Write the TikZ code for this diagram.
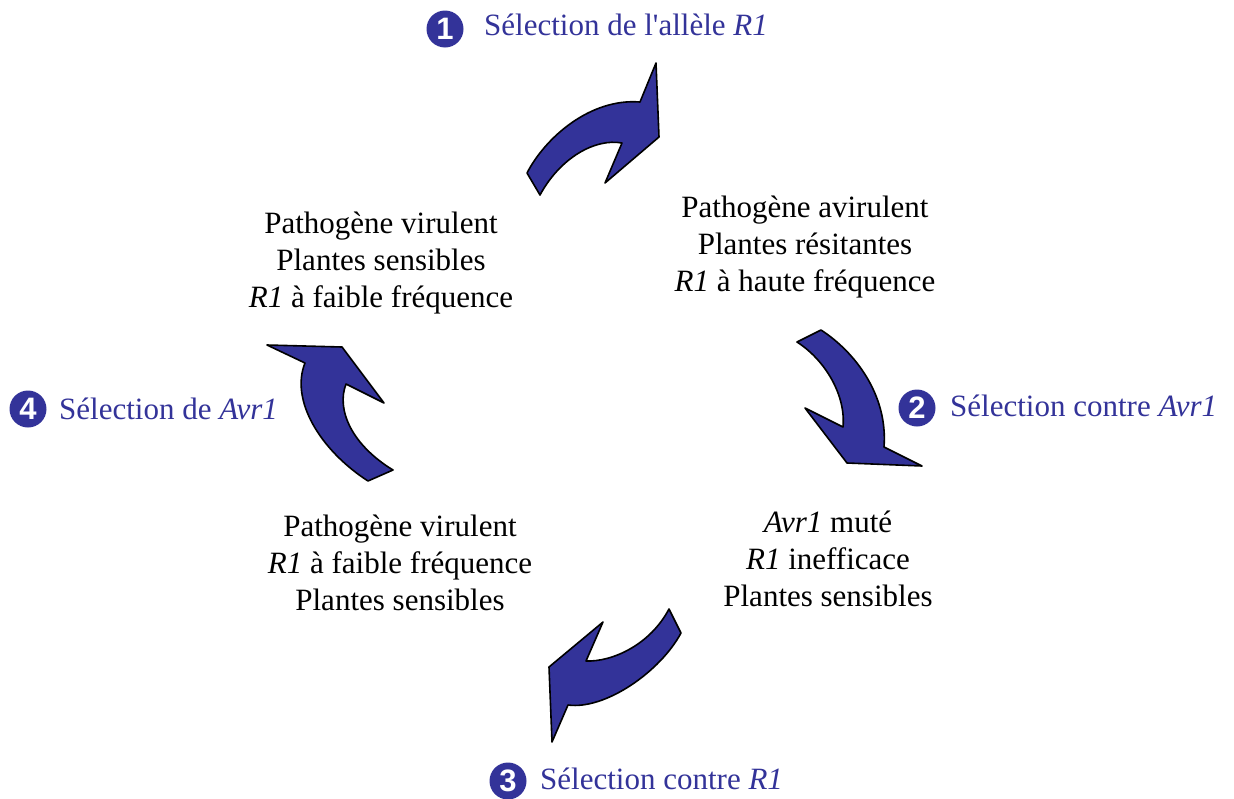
\documentclass[tikz,border=0pt]{standalone}
\usepackage{fontspec}
\newfontfamily\tnr{Liberation Serif}
\newfontfamily\digitfont{Liberation Sans}
\definecolor{cycblue}{HTML}{333399}
\tikzset{
  txt/.style={font=\tnr\fontsize{31}{37}\selectfont, align=center, inner sep=0pt},
  lbl/.style={font=\tnr\fontsize{31}{37}\selectfont, text=cycblue, inner sep=0pt, anchor=base west},
  numcirc/.style={circle, fill=cycblue, text=white, minimum size=37pt, inner sep=0pt, font=\digitfont\bfseries\fontsize{31}{31}\selectfont},
  bigarrow/.style={fill=cycblue, draw=black, line width=1.6pt, line join=round}
}
\begin{document}
\begin{tikzpicture}[x=1pt,y=-1pt]
\useasboundingbox[fill=white] (0,0) rectangle (1234,798);

% state texts
\node[txt] (tl) at (381,263) {Pathogène virulent\\Plantes sensibles\\\textit{R1} à faible fréquence};
\node[txt] (tr) at (805,247) {Pathogène avirulent\\Plantes résitantes\\\textit{R1} à haute fréquence};
\node[txt] (br) at (828,559) {\textit{Avr1} muté\\\textit{R1} inefficace\\Plantes sensibles};
\node[txt] (bl) at (400,563) {Pathogène virulent\\\textit{R1} à faible fréquence\\Plantes sensibles};

% numbered labels
\node[numcirc] (c1) at (445,29) {1};
\node[lbl] (l1) at (484,35) {Sélection de l'allèle \textit{R1}};
\node[numcirc] (c2) at (917,408) {2};
\node[lbl] (l2) at (950,416) {Sélection contre \textit{Avr1}};
\node[numcirc] (c3) at (508,781) {3};
\node[lbl] (l3) at (540,789) {Sélection contre \textit{R1}};
\node[numcirc] (c4) at (28,409) {4};
\node[lbl] (l4) at (59,419) {Sélection de \textit{Avr1}};

% curved arrows
\draw[bigarrow] (527,173) .. controls (545,138) and (590,98) .. (640,102) -- (656,63) -- (659,137) -- (605,183) -- (622,143) .. controls (595,138) and (560,158) .. (540,195) -- cycle;
\draw[bigarrow] (797,342) -- (821,330) .. controls (855,352) and (888,395) .. (884,447) -- (922,466) -- (847,463) -- (805,408) -- (843,427) .. controls (846,395) and (825,360) .. (797,342) -- cycle;
\draw[bigarrow] (669,609) -- (681,633) .. controls (660,672) and (605,710) .. (568,705) -- (552,742) -- (549,667) -- (603,622) -- (586,661) .. controls (612,662) and (650,645) .. (669,609) -- cycle;
\draw[bigarrow] (267,345) -- (342,347) -- (384,403) -- (346,384) .. controls (336,410) and (352,445) .. (393,470) -- (368,481) .. controls (320,450) and (290,400) .. (305,363) -- cycle;
\end{tikzpicture}
\end{document}
